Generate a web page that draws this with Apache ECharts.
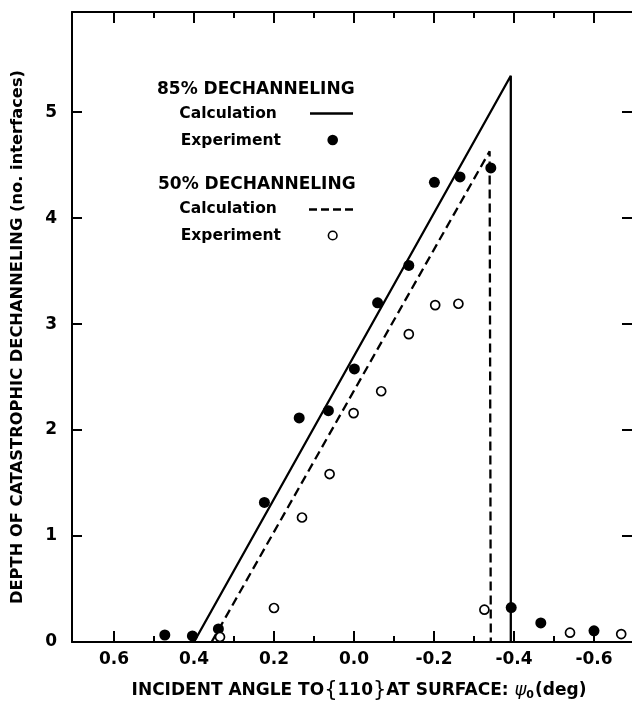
<!DOCTYPE html>
<html>
<head>
<meta charset="utf-8">
<script src="https://cdn.jsdelivr.net/npm/echarts@6/dist/echarts.min.js"></script>
<style>
  html, body { margin: 0; padding: 0; background: #fff; }
  #chart { width: 632px; height: 703px; }
</style>
</head>
<body>
<div id="chart"></div>
<script>
// ---- data ----
const xTickValues = [0.6, 0.4, 0.2, 0.0, -0.2, -0.4, -0.6];
const xMinorTickValues = [0.5, 0.3, 0.1, -0.1, -0.3, -0.5];
const yTickValues = [0, 1, 2, 3, 4, 5];

// 85% dechanneling
const calc85X = [0.400, -0.392, -0.392];
const calc85Y = [0.000, 5.343, 0.000];
const exp85X = [0.473, 0.404, 0.339, 0.224, 0.137, 0.064, -0.001, -0.059, -0.137, -0.201, -0.265, -0.342, -0.393, -0.467, -0.600];
const exp85Y = [0.066, 0.057, 0.123, 1.317, 2.114, 2.183, 2.577, 3.201, 3.554, 4.338, 4.389, 4.474, 0.325, 0.180, 0.106];

// 50% dechanneling
const calc50X = [0.356, -0.339, -0.342];
const calc50Y = [0.000, 4.630, 0.000];
const exp50X = [0.335, 0.200, 0.130, 0.061, 0.001, -0.068, -0.137, -0.203, -0.261, -0.326, -0.540, -0.668];
const exp50Y = [0.047, 0.321, 1.175, 1.585, 2.160, 2.366, 2.905, 3.179, 3.192, 0.305, 0.088, 0.075];

const legendHead85 = '85% DECHANNELING';
const legendHead50 = '50% DECHANNELING';
const legendCalc = 'Calculation';
const legendExp = 'Experiment';
const xTitle = 'INCIDENT ANGLE TO';
const xTitleSet = '110';
const xTitleTail = 'AT SURFACE: ';
const xTitleSym = 'ψ';
const xTitleSub = '0';
const xTitleUnit = '(deg)';
const yTitle = 'DEPTH OF CATASTROPHIC DECHANNELING (no. interfaces)';

// ---- helpers ----
const zip = (xs, ys) => xs.map((x, i) => [x, ys[i]]);
const FONT = 'DejaVu Sans';
const INK = '#000';

const X_MIN = -0.695, X_MAX = 0.705, Y_MIN = 0, Y_MAX = 5.945;

function xAxisBase(position, tickValues, tickLen, showLabels, showLine) {
  return {
    type: 'value', position: position, inverse: true,
    min: X_MIN, max: X_MAX,
    axisLine: { show: showLine, onZero: false, lineStyle: { color: INK, width: 2 } },
    axisTick: { show: true, inside: true, length: tickLen, customValues: tickValues,
                lineStyle: { color: INK, width: 2 } },
    axisLabel: showLabels ? {
      show: true, customValues: tickValues, margin: 9,
      fontFamily: FONT, fontWeight: 'bold', fontSize: 17, color: INK,
      formatter: v => Number(v).toFixed(1)
    } : { show: false },
    splitLine: { show: false }
  };
}

const chart = echarts.init(document.getElementById('chart'), null, { renderer: 'canvas' });

const xMain = xAxisBase('bottom', xTickValues, 11, true, true);
xMain.name = '{t|' + xTitle + '}{{t|' + xTitleSet + '}}{t|' + xTitleTail + '}{p|' + xTitleSym + '}{s|' + xTitleSub + '}{t|' + xTitleUnit + '}';
xMain.nameLocation = 'middle';
xMain.nameGap = 38;
xMain.nameTextStyle = {
  fontFamily: FONT, fontWeight: 'normal', fontSize: 21, color: INK,
  padding: [0, 0, 0, 14],
  rich: {
    t: { fontFamily: FONT, fontWeight: 'bold', fontSize: 17, color: INK },
    p: { fontFamily: FONT, fontWeight: 'normal', fontStyle: 'italic', fontSize: 18, color: INK },
    s: { fontFamily: FONT, fontWeight: 'bold', fontSize: 11, color: INK, verticalAlign: 'bottom', padding: [0, 1, 0, 0] }
  }
};

const option = {
  backgroundColor: '#fff',
  animation: false,
  grid: { left: 72, right: 0, top: 12, bottom: 61, containLabel: false, outerBoundsMode: 'none' },
  xAxis: [
    xMain,
    xAxisBase('bottom', xMinorTickValues, 6, false, false),
    xAxisBase('top', xTickValues, 11, false, true),
    xAxisBase('top', xMinorTickValues, 6, false, false)
  ],
  yAxis: [
    {
      type: 'value', position: 'left', min: Y_MIN, max: Y_MAX,
      axisLine: { show: true, onZero: false, lineStyle: { color: INK, width: 2 } },
      axisTick: { show: true, inside: true, length: 10, customValues: yTickValues,
                  lineStyle: { color: INK, width: 2 } },
      axisLabel: { show: true, customValues: yTickValues, margin: 15,
                   fontFamily: FONT, fontWeight: 'bold', fontSize: 17, color: INK },
      splitLine: { show: false },
      name: yTitle, nameLocation: 'middle', nameGap: 46,
      nameTextStyle: { fontFamily: FONT, fontWeight: 'bold', fontSize: 16.3, color: INK,
                       padding: [0, 20, 0, 0] }
    },
    {
      type: 'value', position: 'right', min: Y_MIN, max: Y_MAX,
      axisLine: { show: true, onZero: false, lineStyle: { color: '#888', width: 1 } },
      axisTick: { show: true, inside: true, length: 10, customValues: yTickValues,
                  lineStyle: { color: INK, width: 2 } },
      axisLabel: { show: false },
      splitLine: { show: false }
    }
  ],
  series: [
    {
      name: '85% Calculation', type: 'line', xAxisIndex: 0, yAxisIndex: 0,
      data: zip(calc85X, calc85Y), showSymbol: false, symbol: 'none',
      lineStyle: { color: INK, width: 2.3, type: 'solid' }, z: 2
    },
    {
      name: '50% Calculation', type: 'line', xAxisIndex: 0, yAxisIndex: 0,
      data: zip(calc50X, calc50Y), showSymbol: false, symbol: 'none',
      lineStyle: { color: INK, width: 2.3, type: [9, 5] }, z: 2
    },
    {
      name: '85% Experiment', type: 'scatter', xAxisIndex: 0, yAxisIndex: 0,
      data: zip(exp85X, exp85Y), symbol: 'circle', symbolSize: 11,
      itemStyle: { color: INK, borderColor: INK, borderWidth: 0, opacity: 1 }, z: 3
    },
    {
      name: '50% Experiment', type: 'scatter', xAxisIndex: 0, yAxisIndex: 0,
      data: zip(exp50X, exp50Y), symbol: 'circle', symbolSize: 9,
      itemStyle: { color: '#fff', borderColor: INK, borderWidth: 1.7, opacity: 1 }, z: 3
    }
  ],
  graphic: [
    { type: 'text', x: 157, y: 89.5, style: { text: legendHead85, fill: INK, font: 'bold 17px "DejaVu Sans"', align: 'left', verticalAlign: 'middle' } },
    { type: 'text', x: 179.3, y: 113.5, style: { text: legendCalc, fill: INK, font: 'bold 15.5px "DejaVu Sans"', align: 'left', verticalAlign: 'middle' } },
    { type: 'line', shape: { x1: 310, y1: 113.5, x2: 353, y2: 113.5 }, style: { stroke: INK, lineWidth: 2.3 } },
    { type: 'text', x: 180.7, y: 140.5, style: { text: legendExp, fill: INK, font: 'bold 15.5px "DejaVu Sans"', align: 'left', verticalAlign: 'middle' } },
    { type: 'circle', shape: { cx: 332.7, cy: 140, r: 5.3 }, style: { fill: INK } },
    { type: 'text', x: 158, y: 184.5, style: { text: legendHead50, fill: INK, font: 'bold 17px "DejaVu Sans"', align: 'left', verticalAlign: 'middle' } },
    { type: 'text', x: 179.3, y: 208.8, style: { text: legendCalc, fill: INK, font: 'bold 15.5px "DejaVu Sans"', align: 'left', verticalAlign: 'middle' } },
    { type: 'line', shape: { x1: 309, y1: 209.5, x2: 353, y2: 209.5 }, style: { stroke: INK, lineWidth: 2.3, lineDash: [8, 4] } },
    { type: 'text', x: 180.7, y: 236, style: { text: legendExp, fill: INK, font: 'bold 15.5px "DejaVu Sans"', align: 'left', verticalAlign: 'middle' } },
    { type: 'circle', shape: { cx: 332.7, cy: 235.5, r: 4.3 }, style: { fill: '#fff', stroke: INK, lineWidth: 1.6 } }
  ]
};

chart.setOption(option);
</script>
</body>
</html>
